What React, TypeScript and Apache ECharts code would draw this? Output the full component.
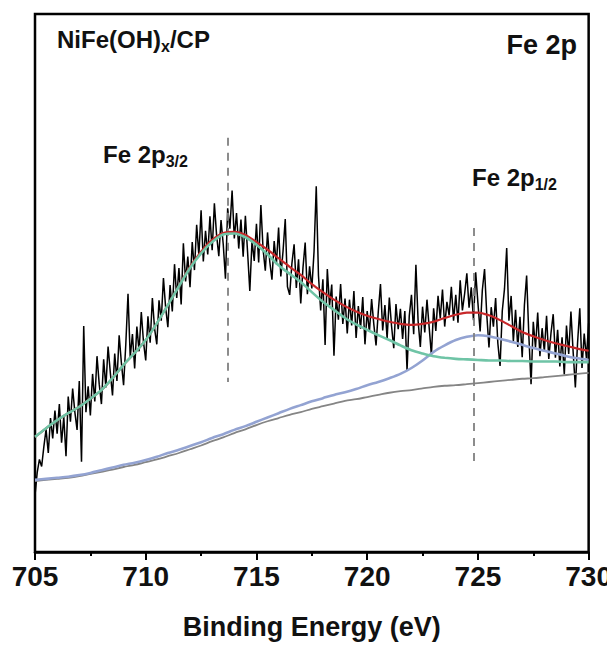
import React, { useEffect, useRef } from "react";
import * as echarts from "echarts";

// Raw spectrum, 705.0 → 730.0 eV in 0.1 eV steps (a.u.)
const rawStart = 705;
const rawStep = 0.1;
const rawIntensity = [
  10.5, 14.8, 17.2, 15.9, 19.6, 22.8, 18.4, 24.9, 21.1, 26.3,
  22.0, 27.5, 20.3, 25.1, 17.8, 28.9, 24.2, 30.4, 26.0, 22.7,
  31.8, 16.8, 42.0, 26.0, 30.8, 25.4, 33.1, 28.0, 36.4, 31.2,
  27.5, 35.8, 30.6, 38.2, 33.4, 29.1, 36.9, 31.8, 40.3, 35.2,
  31.0, 38.6, 48.0, 36.2, 40.5, 34.1, 41.9, 37.3, 44.6, 39.0,
  35.6, 43.8, 38.9, 47.2, 41.5, 38.6, 46.8, 43.0, 50.9, 45.4,
  41.8, 49.6, 44.7, 53.5, 47.2, 52.8, 46.0, 57.4, 50.3, 54.9,
  49.2, 57.6, 52.4, 60.8, 55.1, 63.5, 54.0, 59.7, 55.3, 62.4,
  56.1, 64.8, 58.9, 55.0, 61.7, 57.2, 50.8, 63.9, 60.1, 67.2,
  58.3, 63.0, 56.4, 61.8, 54.9, 62.5, 55.7, 48.5, 57.9, 54.1,
  61.0, 53.8, 64.5, 56.2, 52.3, 59.4, 54.0, 50.6, 57.8, 53.5,
  60.3, 51.2, 55.9, 61.9, 49.3, 47.8, 53.6, 57.2, 49.1, 54.4,
  46.2, 52.8, 57.5, 47.9, 53.1, 49.0, 55.8, 68.0, 51.4, 44.9,
  50.7, 38.5, 52.6, 45.8, 49.7, 36.5, 47.5, 43.2, 49.8, 42.4,
  47.1, 40.6, 46.9, 42.1, 48.5, 39.8, 45.7, 41.5, 47.4, 38.6,
  44.8, 40.9, 47.0, 42.3, 38.4, 44.6, 49.8, 41.2, 45.9, 39.7,
  47.3, 42.0, 37.9, 46.1, 41.4, 45.2, 39.6, 44.8, 33.8, 43.9,
  47.8, 40.5, 53.4, 42.9, 38.1, 45.6, 40.8, 46.9, 41.7, 36.6,
  45.3, 41.1, 47.6, 43.4, 48.8, 41.9, 46.5, 44.0, 49.3, 43.0,
  47.8, 42.6, 50.5, 44.9, 48.0, 51.8, 45.4, 49.2, 43.1, 52.0,
  46.3, 41.0, 48.7, 52.6, 44.1, 38.0, 45.5, 41.9, 47.2, 38.8,
  34.6, 44.8, 48.9, 56.5, 43.0, 47.6, 39.2, 45.0, 38.1, 43.7,
  36.2, 45.9, 51.4, 40.2, 31.2, 42.8, 38.0, 44.5, 36.4, 41.6,
  37.3, 43.9, 35.9, 40.7, 44.2, 36.1, 41.3, 34.5, 39.9, 33.0,
  42.1, 36.8, 44.7, 37.2, 30.6, 38.9, 45.3, 34.2, 40.6, 36.0,
  42.5,
];

// Fitted curves, 705.0 → 730.0 eV in 0.5 eV steps
const fitStart = 705;
const fitStep = 0.5;
const envelope = [
  21.4, 23.0, 24.5, 25.8, 27.0, 28.5, 30.1, 32.3, 34.8, 37.0,
  39.4, 42.5, 45.9, 49.5, 53.0, 55.8, 58.0, 59.3, 59.5, 58.9,
  57.6, 56.2, 54.6, 53.0, 51.5, 49.8, 48.3, 46.9, 45.7, 44.7,
  43.9, 43.3, 42.8, 42.4, 42.2, 42.4, 42.8, 43.5, 44.1, 44.5,
  44.5, 44.0, 43.1, 42.0, 40.9, 40.1, 39.4, 38.8, 38.3, 37.8,
  37.4,
];
const peak32 = [
  21.4, 23.0, 24.5, 25.8, 27.0, 28.5, 30.1, 32.3, 34.8, 37.0,
  39.4, 42.5, 45.9, 49.4, 52.8, 55.5, 57.6, 59.0, 59.2, 58.5,
  57.1, 55.3, 53.3, 51.7, 50.2, 48.3, 46.5, 45.0, 43.5, 42.3,
  41.3, 40.3, 39.4, 38.4, 37.5, 36.9, 36.4, 36.1, 35.9, 35.8,
  35.7, 35.6, 35.6, 35.5, 35.5, 35.4, 35.4, 35.4, 35.3, 35.3,
  35.3,
];
const peak12 = [
  13.4, 13.6, 13.8, 14.0, 14.3, 14.7, 15.2, 15.7, 16.2, 16.6,
  17.1, 17.7, 18.4, 19.0, 19.7, 20.4, 21.2, 21.9, 22.7, 23.4,
  24.2, 25.0, 25.8, 26.6, 27.3, 28.0, 28.6, 29.2, 29.7, 30.3,
  31.0, 31.6, 32.3, 33.1, 34.2, 35.6, 37.2, 38.4, 39.4, 40.0,
  40.3, 40.1, 39.6, 39.1, 38.5, 37.9, 37.4, 36.9, 36.4, 36.0,
  35.7,
];
const background = [
  13.2, 13.4, 13.6, 13.8, 14.1, 14.5, 14.9, 15.3, 15.8, 16.2,
  16.7, 17.2, 17.8, 18.4, 19.1, 19.8, 20.6, 21.3, 22.1, 22.8,
  23.6, 24.3, 24.9, 25.5, 26.0, 26.6, 27.1, 27.6, 28.1, 28.4,
  28.8, 29.2, 29.6, 29.9, 30.1, 30.4, 30.7, 30.9, 31.0, 31.2,
  31.4, 31.6, 31.8, 32.0, 32.2, 32.3, 32.5, 32.7, 32.9, 33.1,
  33.3,
];

// Peak position markers [energy, top, bottom]
const peakMarkers = [
  [713.7, 77.0, 31.6],
  [724.8, 60.2, 16.2],
];

const xTicks = { min: 705, max: 730, interval: 5 };

const toPairs = (start: number, step: number, ys: number[]) =>
  ys.map((y, i) => [+(start + i * step).toFixed(2), y]);

const FONT = "'Liberation Sans', Arial, sans-serif";

export default function App() {
  const ref = useRef<HTMLDivElement>(null);
  useEffect(() => {
    if (!ref.current) return;
    const chart = echarts.init(ref.current, null, { renderer: "svg" });
    const subRich = {
      b: { fontFamily: FONT, fontWeight: "bold", fontSize: 24, fill: "#111" },
      s: { fontFamily: FONT, fontWeight: "bold", fontSize: 16, fill: "#111", padding: [14, 0, 0, 0] },
    };
    chart.setOption({
      animation: false,
      grid: {
        left: 35,
        right: 25,
        top: 14,
        bottom: 97,
        show: true,
        borderColor: "#000",
        borderWidth: 2.5,
        backgroundColor: "transparent",
      },
      xAxis: {
        type: "value",
        min: xTicks.min,
        max: xTicks.max,
        interval: xTicks.interval,
        axisLine: { show: true, lineStyle: { color: "#000", width: 2.5 } },
        axisTick: { show: true, inside: false, length: 8, lineStyle: { color: "#000", width: 2 } },
        minorTick: { show: true, splitNumber: 2, length: 4, lineStyle: { color: "#000", width: 2 } },
        splitLine: { show: false },
        axisLabel: {
          color: "#111",
          fontFamily: FONT,
          fontWeight: "bold",
          fontSize: 28,
          margin: 10,
        },
        name: "Binding Energy (eV)",
        nameLocation: "middle",
        nameGap: 61,
        nameTextStyle: { color: "#111", fontFamily: FONT, fontWeight: "bold", fontSize: 27 },
      },
      yAxis: {
        type: "value",
        min: 0,
        max: 100,
        axisLine: { show: false },
        axisTick: { show: false },
        axisLabel: { show: false },
        splitLine: { show: false },
      },
      series: [
        {
          type: "line",
          name: "raw",
          data: toPairs(rawStart, rawStep, rawIntensity),
          showSymbol: false,
          lineStyle: { color: "#000", width: 1.5 },
          z: 2,
          markLine: {
            silent: true,
            symbol: ["none", "none"],
            label: { show: false },
            lineStyle: { color: "#808080", type: [8, 7], width: 1.8 },
            data: peakMarkers.map((m) => [
              { coord: [m[0], m[1]] },
              { coord: [m[0], m[2]] },
            ]),
          },
        },
        {
          type: "line",
          name: "background",
          data: toPairs(fitStart, fitStep, background),
          showSymbol: false,
          smooth: 0.3,
          lineStyle: { color: "#858585", width: 1.8 },
          z: 3,
        },
        {
          type: "line",
          name: "Fe 2p1/2",
          data: toPairs(fitStart, fitStep, peak12),
          showSymbol: false,
          smooth: 0.3,
          lineStyle: { color: "#93a3d2", width: 2.6 },
          z: 4,
        },
        {
          type: "line",
          name: "envelope",
          data: toPairs(fitStart, fitStep, envelope),
          showSymbol: false,
          smooth: 0.3,
          lineStyle: { color: "#c8282a", width: 2.2 },
          z: 5,
        },
        {
          type: "line",
          name: "Fe 2p3/2",
          data: toPairs(fitStart, fitStep, peak32),
          showSymbol: false,
          smooth: 0.3,
          lineStyle: { color: "#6fc4a6", width: 2.6 },
          z: 6,
        },
      ],
      graphic: [
        {
          type: "text",
          left: 57,
          top: 27,
          style: {
            text: "{b|NiFe(OH)}{s|x}{b|/CP}",
            rich: {
              b: { fontFamily: FONT, fontWeight: "bold", fontSize: 24, fill: "#111" },
              s: { fontFamily: FONT, fontWeight: "bold", fontSize: 16, fill: "#111", padding: [14, 0, 0, 0] },
            },
          },
        },
        {
          type: "text",
          right: 38,
          top: 31,
          style: {
            text: "Fe 2p",
            fontFamily: FONT,
            fontWeight: "bold",
            fontSize: 27,
            fill: "#111",
          },
        },
        {
          type: "text",
          left: 103,
          top: 142,
          style: { text: "{b|Fe 2p}{s|3/2}", rich: subRich },
        },
        {
          type: "text",
          left: 472,
          top: 165,
          style: { text: "{b|Fe 2p}{s|1/2}", rich: subRich },
        },
      ],
    });
    return () => chart.dispose();
  }, []);
  return <div ref={ref} style={{ width: 615, height: 649, marginTop: -8, marginLeft: -8 }} />;
}
